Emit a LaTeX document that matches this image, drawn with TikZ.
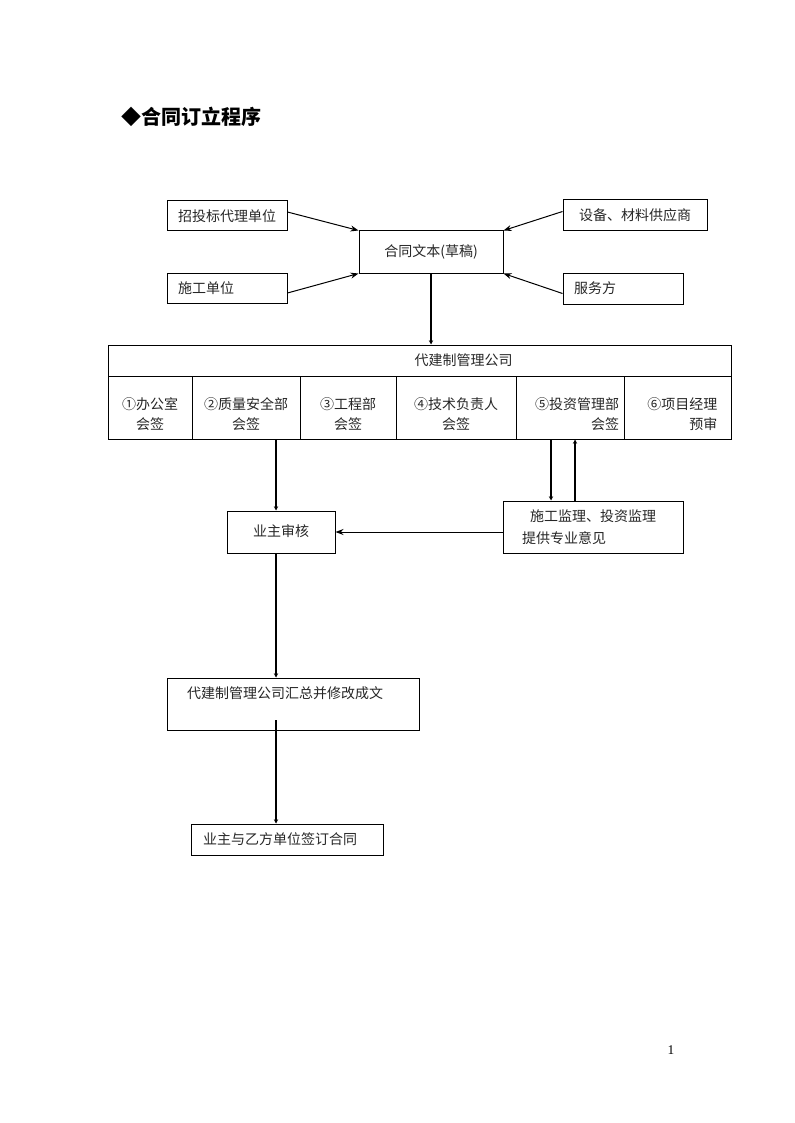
\documentclass[tikz,border=0pt]{standalone}
\usepackage{fontspec}
\setmainfont{Noto Sans CJK SC}
\newfontfamily\pgnum{Liberation Serif}
\usetikzlibrary{arrows.meta}
\begin{document}
\begin{tikzpicture}[x=0.75pt,y=-0.75pt,
  bx/.style n args={2}{draw, line width=0.75pt, minimum width=#1*0.75pt, minimum height=#2*0.75pt, inner sep=0pt,
     font=\fontsize{10.5pt}{15pt}\selectfont, text=black!85},
  lt/.style n args={2}{align=left, text width=#1*0.75pt, inner xsep=#2*0.75pt},
  cl/.style={inner sep=0pt, yshift=-5.25pt, font=\fontsize{10.5pt}{15pt}\selectfont, text=black!85},
  thinarrow/.style={line width=0.75pt, -{Stealth[length=6pt,width=4.5pt]}},
  thickarrow/.style={line width=1.6pt, -{Stealth[length=3.2pt,width=3.2pt]}}]
\useasboundingbox (0,0) rectangle (794,1123);

% title
\node[anchor=west, inner sep=0pt, font=\fontsize{15pt}{18pt}\selectfont\bfseries] (title) at (121,117) {◆合同订立程序};

% top boxes
\node[bx={120}{30}] (zb) at (227,216) {招投标代理单位};
\node[bx={144}{31}] (sb) at (635,215.5) {设备、材料供应商};
\node[bx={144}{42}] (ht) at (431,252) {合同文本(草稿)};
\node[bx={120}{30}, lt={98}{11}] (sg) at (227,288) {施工单位};
\node[bx={120}{31}, lt={98}{11}] (fw) at (623,288.5) {服务方};

\draw[thinarrow] ([yshift=3pt]zb.east) -- (ht.north west);
\draw[thinarrow] ([yshift=-3.75pt]sg.east) -- (ht.south west);
\draw[thinarrow] ([yshift=3pt]sb.west) -- (ht.north east);
\draw[thinarrow] ([yshift=-3.75pt]fw.west) -- (ht.south east);

% company block
\node[bx={623}{31}] (hd) at (419.5,360.5) {\hspace*{66pt}代建制管理公司};
\node[bx={84}{63}, label={[cl, align=center]center:①办公室\\会签}] (c1) at (150,407.5) {};
\node[bx={108}{63}, label={[cl, align=center]center:②质量安全部\\会签}] (c2) at (246,407.5) {};
\node[bx={96}{63}, label={[cl, align=center]center:③工程部\\会签}] (c3) at (348,407.5) {};
\node[bx={120}{63}, label={[cl, align=center]center:④技术负责人\\会签}] (c4) at (456,407.5) {};
\node[bx={108}{63}, label={[cl, align=right, text width=98*0.75pt]center:⑤投资管理部\\会签}] (c5) at (570,407.5) {};
\node[bx={107}{63}, label={[cl, align=right, text width=85*0.75pt, xshift=-2pt]center:⑥项目经理\\预审}] (c6) at (677.5,407.5) {};

\draw[thickarrow] (ht.south) -- (ht.south |- hd.north);

% review
\node[bx={108}{42}] (yz) at (281,532) {\raisebox{2.5pt}{业主审核}};
\node[bx={180}{52}, lt={142}{19}, font=\fontsize{10.5pt}{16.5pt}\selectfont] (jl) at (593,527) {\hspace*{6pt}施工监理、投资监理\\提供专业意见};
\node[bx={252}{52}, lt={212}{20}, font=\fontsize{10.5pt}{17pt}\selectfont] (sum) at (293,704) {代建制管理公司汇总并修改成文\\\mbox{}};
\node[bx={192}{31}, lt={168}{12}] (sign) at (287,839.5) {业主与乙方单位签订合同};

\coordinate (ax) at (276,720);
\coordinate (dn) at (551,470);
\coordinate (up) at (575,470);

\draw[thickarrow] (ax |- c2.south) -- (ax |- yz.north);
\draw[thickarrow] (dn |- c5.south) -- (dn |- jl.north);
\draw[thickarrow] (up |- jl.north) -- (up |- c5.south);
\draw[thinarrow] ([yshift=-3.75pt]jl.west) -- ([yshift=-3.75pt]jl.west -| yz.east);
\draw[thickarrow] (ax |- yz.south) -- (ax |- sum.north);
\draw[thickarrow] (ax) -- (ax |- sign.north);

% page number
\node[font=\pgnum\fontsize{10pt}{12pt}\selectfont, inner sep=0pt] (pg) at (671,1050) {1};
\end{tikzpicture}
\end{document}
